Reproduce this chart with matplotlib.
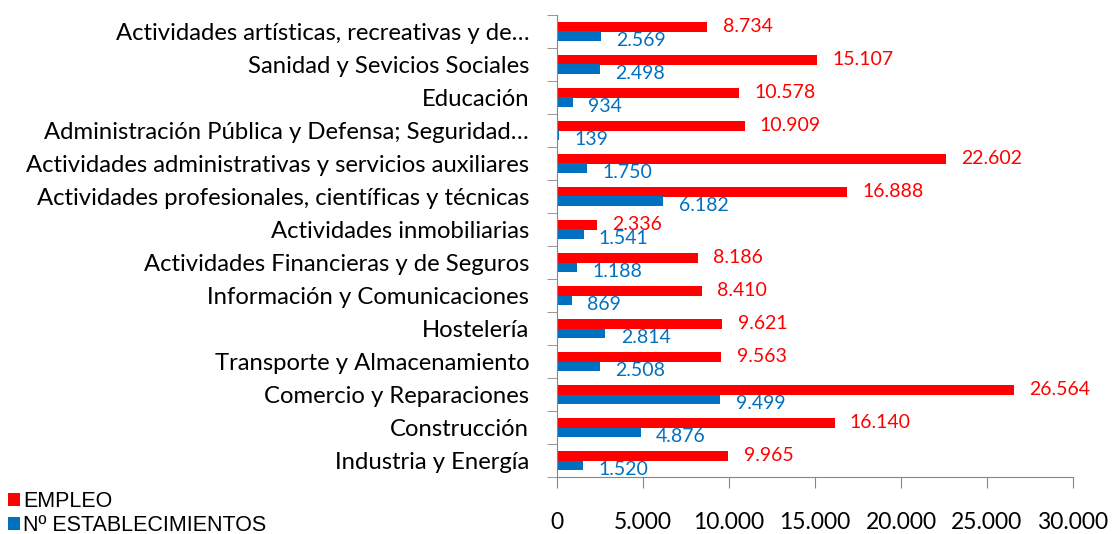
import matplotlib
matplotlib.use("Agg")
import matplotlib.pyplot as plt
import numpy as np

categories = [
    "Industria y Energía",
    "Construcción",
    "Comercio y Reparaciones",
    "Transporte y Almacenamiento",
    "Hostelería",
    "Información y Comunicaciones",
    "Actividades Financieras y de Seguros",
    "Actividades inmobiliarias",
    "Actividades profesionales, científicas y técnicas",
    "Actividades administrativas y servicios auxiliares",
    "Administración Pública y Defensa; Seguridad…",
    "Educación",
    "Sanidad y Sevicios Sociales",
    "Actividades artísticas, recreativas y de…",
]
empleo = [9965, 16140, 26564, 9563, 9621, 8410, 8186, 2336, 16888, 22602, 10909, 10578, 15107, 8734]
establecimientos = [1520, 4876, 9499, 2508, 2814, 869, 1188, 1541, 6182, 1750, 139, 934, 2498, 2569]
x_ticks = [0, 5000, 10000, 15000, 20000, 25000, 30000]

RED = "#FF0000"
BLUE = "#0070C0"
GRAY = "#868686"
FONT = "Lato"


def fmt(v):
    return f"{v:,}".replace(",", ".")


fig = plt.figure(figsize=(11.13, 5.34), dpi=100)
ax = fig.add_axes([557 / 1113, 1 - 477 / 534, (1073 - 557) / 1113, (477 - 15) / 534])

y = np.arange(len(categories))
h = 0.3
ax.barh(y + h / 2, empleo, height=h, color=RED, label="EMPLEO")
ax.barh(y - h / 2, establecimientos, height=h, color=BLUE, label="Nº ESTABLECIMIENTOS")

for yi, v in zip(y, empleo):
    ax.annotate(fmt(v), (v, yi + h / 2), xytext=(11, 0), textcoords="offset points",
                ha="left", va="center", color=RED, fontsize=14, family=FONT)
for yi, v in zip(y, establecimientos):
    ax.annotate(fmt(v), (v, yi - h / 2), xytext=(11, -3), textcoords="offset points",
                ha="left", va="center", color=BLUE, fontsize=14, family=FONT)

ax.set_xlim(0, 30000)
ax.set_ylim(-0.5, len(categories) - 0.5)
ax.set_xticks(x_ticks)
ax.set_xticklabels([fmt(t) for t in x_ticks], family=FONT, fontsize=16.5)
ax.set_yticks(y)
ax.set_yticklabels(categories, family=FONT, fontsize=17.2)
ax.set_yticks(np.arange(len(categories) + 1) - 0.5, minor=True)

ax.tick_params(axis="y", which="major", length=0, pad=20)
ax.tick_params(axis="y", which="minor", length=7, color=GRAY, direction="out")
ax.tick_params(axis="x", which="major", length=8, color=GRAY, direction="out", pad=17)

for s in ["top", "right"]:
    ax.spines[s].set_visible(False)
for s in ["left", "bottom"]:
    ax.spines[s].set_color(GRAY)

handles, labels = ax.get_legend_handles_labels()
fig.legend(handles, labels, loc="upper left", bbox_to_anchor=(8 / 1113, 1 - 491 / 534),
           frameon=False, prop={"family": "Liberation Sans", "size": 15.5},
           handlelength=0.55, handleheight=0.55, handletextpad=0.15, labelspacing=0.15,
           borderpad=0, borderaxespad=0)

fig.savefig("out.png", dpi=100, facecolor="white")
